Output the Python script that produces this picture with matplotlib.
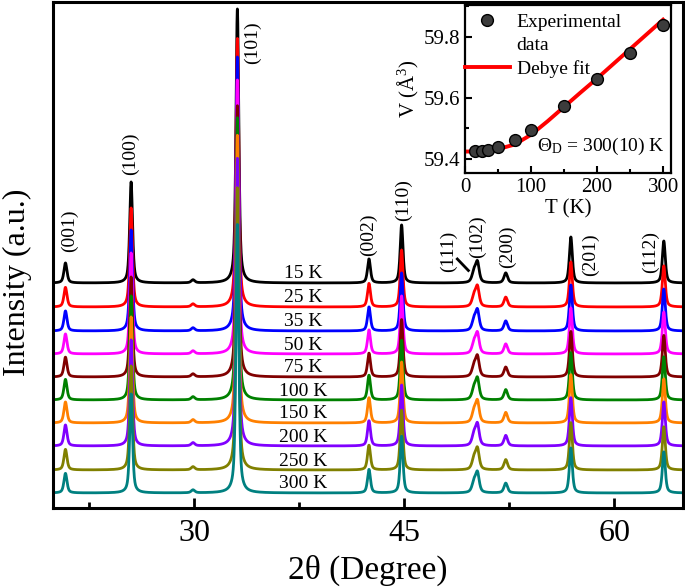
import numpy as np
import matplotlib.pyplot as plt
from matplotlib.ticker import MultipleLocator
from matplotlib.lines import Line2D

plt.rcParams['font.family'] = 'Liberation Serif'
plt.rcParams['mathtext.fontset'] = 'custom'
plt.rcParams['mathtext.rm'] = 'Liberation Serif'
plt.rcParams['mathtext.it'] = 'Liberation Serif:italic'

# temperatures, colours and vertical offsets of the stacked patterns
temps = ['15 K', '25 K', '35 K', '50 K', '75 K', '100 K', '150 K', '200 K', '250 K', '300 K']
colors = ['black', '#ff0000', '#0000ff', '#ff00ff', '#800000', '#008000',
          '#ff8000', '#8000ff', '#808000', '#008080']
offsets = [225, 201, 177, 154, 131, 108, 85, 62, 38, 15]
scale = [1.00, 0.98, 1.00, 1.00, 0.99, 1.03, 1.05, 1.05, 1.03, 0.98]

# reflections
peak_pos = [20.79, 25.48, 29.9, 33.07, 42.47, 44.80, 49.98, 50.22, 52.24, 56.89, 63.53]
peak_height = [20, 101, 3, 274, 24, 58, 11, 19, 10, 46, 42]
peak_fwhm = [0.26, 0.24, 0.3, 0.24, 0.25, 0.24, 0.34, 0.3, 0.3, 0.25, 0.25]

# Miller index labels
hkl = ['(001)', '(100)', '(101)', '(002)', '(110)', '(111)', '(102)', '(200)', '(201)', '(112)']
hkl_x = [21.1, 25.4, 34.14, 42.43, 44.94, 48.16, 50.24, 52.37, 58.31, 62.6]
hkl_y = [277, 354, 465, 273, 308, 257, 271, 261, 253, 256]

# inset: unit cell volume
t_exp = [15, 25, 35, 50, 75, 100, 150, 200, 250, 300]
v_exp = [59.425, 59.427, 59.428, 59.438, 59.461, 59.496, 59.574, 59.662, 59.746, 59.838]
t_fit = [0, 25, 50, 75, 100, 125, 150, 175, 200, 225, 250, 275, 300]
v_fit = [59.424, 59.425, 59.432, 59.447, 59.479, 59.523, 59.570, 59.617, 59.663,
         59.711, 59.759, 59.807, 59.855]


def pattern(x, k):
    y = np.zeros_like(x)
    for p, h, w in zip(peak_pos, peak_height, peak_fwhm):
        u = (x - p) / (w / 2)
        y += h * scale[k] * (0.6 / (1 + u**2) + 0.4 * np.exp(-np.log(2) * u**2))
    return y


fig = plt.figure(figsize=(6.85, 5.88), dpi=100)
ax = fig.add_axes([53/685, 1-508/588, 630/685, 506/588])

tt = np.arange(19.9, 64.9, 0.01)
for k in range(len(temps)):
    ax.plot(tt, pattern(tt, k) + offsets[k], color=colors[k], lw=2)
    ax.text(37.8, offsets[k] + 9, temps[k], fontsize=14, ha='center', va='center')

for lab, x, y in zip(hkl, hkl_x, hkl_y):
    ax.text(x, y, lab, fontsize=14, rotation=90, ha='center', va='center')
ax.plot([48.78, 49.57], [249, 237.5], color='black', lw=2)

ax.set_xlim(19.9, 64.9)
ax.set_ylim(0, 506)
ax.xaxis.set_major_locator(MultipleLocator(15))
ax.xaxis.set_minor_locator(MultipleLocator(7.5))
ax.set_yticks([])
ax.tick_params(axis='x', which='both', direction='in', width=2, labelsize=23, pad=8)
ax.tick_params(axis='x', which='major', length=7)
ax.tick_params(axis='x', which='minor', length=4)
for s in ax.spines.values():
    s.set_linewidth(2.2)
ax.set_xlabel('2θ (Degree)', fontsize=24, labelpad=5)
ax.set_ylabel('Intensity (a.u.)', fontsize=23)
ax.yaxis.set_label_coords(-0.033, 0.447)

# inset
ins = fig.add_axes([465/685, 1-173/588, 206/685, 168/588])
ins.plot(t_fit, v_fit, color='#ff0000', lw=2.8, zorder=2)
ins.plot(t_exp, v_exp, 'o', ms=8.5, mfc='#3c3c3c', mec='black', mew=1, zorder=3)
ins.set_xlim(0, 312)
ins.set_ylim(59.354, 59.903)
ins.xaxis.set_major_locator(MultipleLocator(100))
ins.xaxis.set_minor_locator(MultipleLocator(50))
ins.yaxis.set_major_locator(MultipleLocator(0.2))
ins.yaxis.set_minor_locator(MultipleLocator(0.1))
ins.tick_params(which='both', direction='in', width=1.5, labelsize=15)
ins.tick_params(which='major', length=5)
ins.tick_params(which='minor', length=3)
for s in ins.spines.values():
    s.set_linewidth(1.6)
ins.set_xlabel('T (K)', fontsize=15, labelpad=2)
ins.set_ylabel('V (Å$^3$)', fontsize=15, labelpad=2)
ins.text(302, 59.44, r'$\Theta_\mathrm{D}$ = 300(10) K', fontsize=14, ha='right', va='center')

handles = [Line2D([], [], marker='o', ls='', ms=8.5, mfc='#3c3c3c', mec='black'),
           Line2D([], [], ls=''),
           Line2D([], [], color='#ff0000', lw=2.8)]
ins.legend(handles, ['Experimental', 'data', 'Debye fit'], loc='upper left',
           bbox_to_anchor=(0.0, 0.95), frameon=False, fontsize=14,
           borderpad=0, borderaxespad=0, labelspacing=0.3,
           handlelength=2.3, handletextpad=0.35)

fig.savefig('out.png', dpi=100)
